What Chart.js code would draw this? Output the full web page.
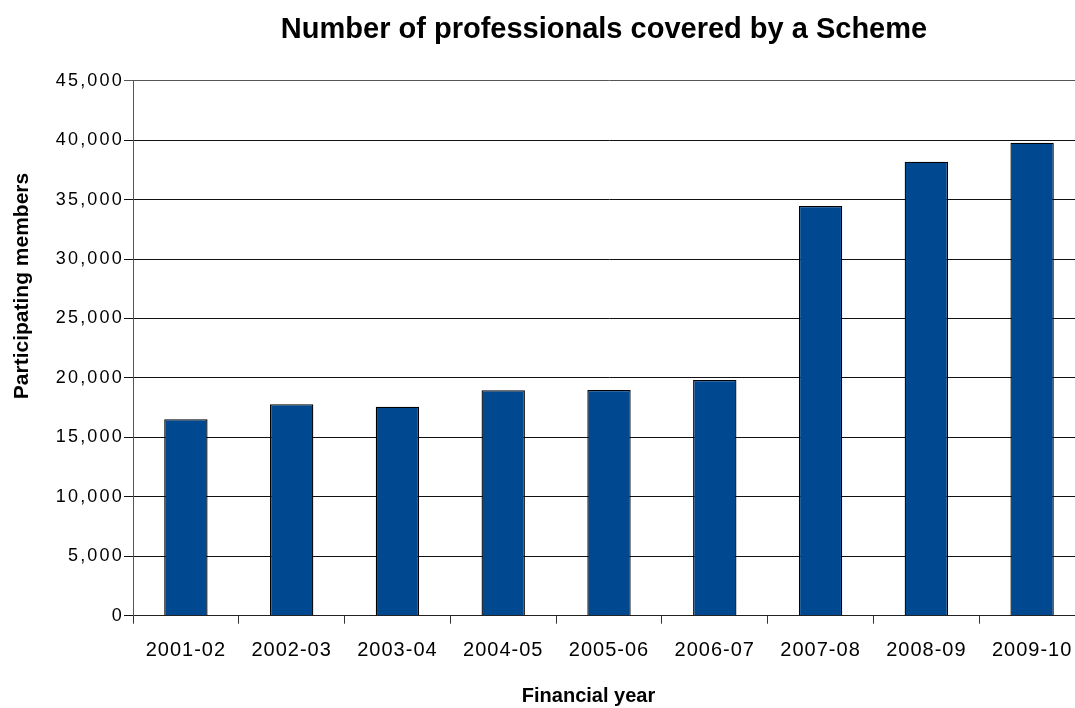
<!DOCTYPE html>
<html>
<head>
<meta charset="utf-8">
<title>Number of professionals covered by a Scheme</title>
<script src="https://cdn.jsdelivr.net/npm/chart.js@4.4.0/dist/chart.umd.min.js"></script>
<style>
  html, body { margin: 0; padding: 0; background: #fff; overflow: hidden; }
  #wrap { width: 1090px; height: 708px; }
</style>
</head>
<body>
<div id="wrap"><canvas id="chart" width="1090" height="708"></canvas></div>
<script>
// data
const years = ['2001-02', '2002-03', '2003-04', '2004-05', '2005-06', '2006-07', '2007-08', '2008-09', '2009-10'];
const members = [16520, 17780, 17580, 18970, 18980, 19830, 34460, 38190, 39780];
const yTicks = [0, 5000, 10000, 15000, 20000, 25000, 30000, 35000, 40000, 45000];

const chartTitle = 'Number of professionals covered by a Scheme';
const xTitle = 'Financial year';
const yTitle = 'Participating members';

const FONT = '"Liberation Sans", Arial, Helvetica, sans-serif';

// the original tick labels are spaced out a little, Chart.js has no option for that
const spacedLabels = {
  id: 'spacedLabels',
  afterLayout(chart) {
    [['x', '1px'], ['y', '2.2px']].forEach(([id, sp]) => {
      const scale = chart.scales[id];
      if (!scale || scale._spaced) return;
      const orig = scale.drawLabels.bind(scale);
      scale.drawLabels = function (area) {
        this.ctx.save();
        this.ctx.letterSpacing = sp;
        orig(area);
        this.ctx.restore();
      };
      scale._spaced = true;
    });
  }
};

// titles are not centred on the axes in the original, so they are drawn by hand
const titles = {
  id: 'titles',
  afterDraw(chart) {
    const ctx = chart.ctx;
    ctx.save();
    ctx.fillStyle = '#000';
    ctx.textAlign = 'center';
    ctx.textBaseline = 'middle';
    ctx.font = 'bold 29px ' + FONT;
    ctx.fillText(chartTitle, 604, 30);
    ctx.font = 'bold 20px ' + FONT;
    ctx.fillText(xTitle, 588.5, 696);
    ctx.translate(22, 286);
    ctx.rotate(-Math.PI / 2);
    ctx.font = 'bold 21px ' + FONT;
    ctx.fillText(yTitle, 0, 0);
    ctx.restore();
  }
};

const chart = new Chart(document.getElementById('chart'), {
  type: 'bar',
  data: {
    labels: years,
    datasets: [{
      data: members,
      backgroundColor: '#004990',
      borderColor: '#000',
      borderWidth: 1.3,
      categoryPercentage: 1,
      barPercentage: 0.41
    }]
  },
  options: {
    responsive: false,
    animation: false,
    layout: { padding: { left: 0, right: 5, top: 80.7, bottom: 0 } },
    plugins: {
      legend: { display: false },
      tooltip: { enabled: false },
      title: { display: false }
    },
    scales: {
      x: {
        offset: true,
        grid: {
          offset: true,
          drawOnChartArea: false,
          drawTicks: true,
          tickLength: 8,
          color: '#333'
        },
        border: { color: '#222', width: 1 },
        ticks: {
          color: '#000',
          font: { family: FONT, size: 20 },
          padding: 15,
          maxRotation: 0,
          autoSkip: false
        },
        afterFit(scale) { scale.height = 708 - 615.7; }
      },
      y: {
        min: 0,
        max: 45000,
        afterBuildTicks(scale) { scale.ticks = yTicks.map(v => ({ value: v })); },
        grid: {
          color: ctx => (ctx.tick && ctx.tick.value === 45000) ? '#555' : '#111',
          lineWidth: 1,
          tickLength: 9
        },
        border: { color: '#555', width: 1 },
        ticks: {
          color: '#000',
          font: { family: FONT, size: 18 },
          padding: 0,
          callback: v => v.toLocaleString('en-US')
        },
        afterFit(scale) { scale.width = 133; }
      }
    }
  },
  plugins: [spacedLabels, titles]
});
</script>
</body>
</html>
